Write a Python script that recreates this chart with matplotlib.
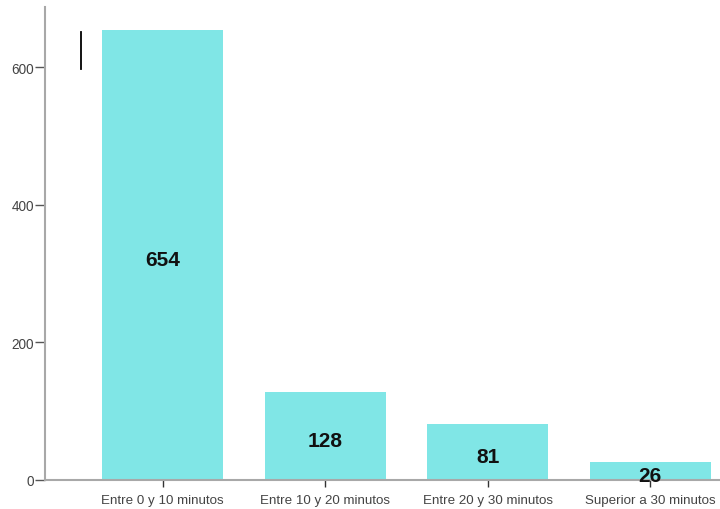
import matplotlib.pyplot as plt
from matplotlib.lines import Line2D

plt.rcParams['font.family'] = ['Liberation Sans', 'DejaVu Sans']

categories = ['Entre 0 y 10 minutos', 'Entre 10 y 20 minutos',
              'Entre 20 y 30 minutos', 'Superior a 30 minutos']
counts = [654, 128, 81, 26]
yticks = [0, 200, 400, 600]

fig = plt.figure(figsize=(7.2, 5.1), dpi=100)
ax = fig.add_axes([0.0625, 0.057, 0.9375, 0.927])

x = range(len(categories))
bars = ax.bar(x, counts, width=0.745, color='#80e6e6', zorder=2)

# counts written in the middle of each bar
for rect, n in zip(bars, counts):
    ax.annotate(str(n), (rect.get_x() + rect.get_width() / 2, rect.get_height() / 2),
                xytext=(0, -3), textcoords='offset points', zorder=5,
                ha='center', va='center', fontsize=15, fontweight='bold', color='#111111')

ax.set_xlim(-0.723, 3.43)
ax.set_ylim(0, 687)
ax.set_xticks(list(x))
ax.set_xticklabels(categories, fontsize=9.6, color='#444444')
ax.set_yticks(yticks)
ax.set_yticklabels([str(v) for v in yticks], fontsize=9.8, color='#444444')

for side in ['top', 'right']:
    ax.spines[side].set_visible(False)
for side in ['left', 'bottom']:
    ax.spines[side].set_color('#a8a8a8')
    ax.spines[side].set_linewidth(1.5)
ax.spines['bottom'].set_zorder(3)

ax.tick_params(axis='x', direction='out', length=5, width=1, color='#333333', pad=5)
ax.tick_params(axis='y', direction='out', length=7, width=1, color='#555555', pad=1)

# small vertical marker near the top-left
ax.add_line(Line2D([0.054, 0.054], [0.869, 0.948], transform=ax.transAxes,
                   color='black', linewidth=1.3))

fig.savefig('out.png', dpi=100)
